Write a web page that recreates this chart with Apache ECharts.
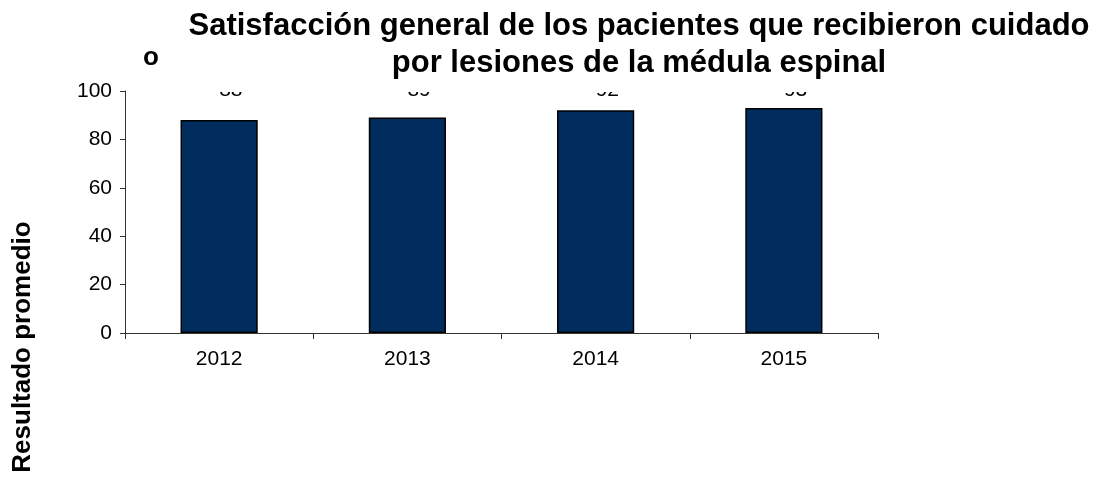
<!DOCTYPE html>
<html>
<head>
<meta charset="utf-8">
<script src="https://cdn.jsdelivr.net/npm/echarts@6/dist/echarts.min.js"></script>
<style>
  html, body { margin: 0; padding: 0; background: #fff; }
  #chart { width: 1117px; height: 477px; }
</style>
</head>
<body>
<div id="chart"></div>
<script>
// datos del gráfico
const years = ['2012', '2013', '2014', '2015'];
const scores = [88, 89, 92, 93];
const yTicks = { min: 0, max: 100, interval: 20 };

const titleText = 'Satisfacción general de los pacientes que recibieron cuidado\npor lesiones de la médula espinal';
const yAxisName = 'Resultado promedio';

const fontFamily = '"Liberation Sans", Arial, sans-serif';

const myChart = echarts.init(document.getElementById('chart'), null, {
  renderer: 'canvas',
});

const option = {
  backgroundColor: '#fff',
  animation: false,
  title: {
    text: titleText,
    left: 639 - 12,
    top: 0,
    textAlign: 'center',
    padding: [8, 12, 10, 12],
    backgroundColor: '#fff',
    textStyle: {
      fontFamily,
      fontSize: 31,
      fontWeight: 'bold',
      color: '#000',
      lineHeight: 37,
    },
  },
  graphic: [
    {
      type: 'text',
      left: 143,
      top: 45,
      style: {
        text: 'o',
        font: 'bold 26px ' + fontFamily,
        fill: '#000',
      },
    },
    {
      // nombre del eje Y, más abajo que el centro del eje
      type: 'text',
      x: 23,
      y: 347,
      rotation: Math.PI / 2,
      style: {
        text: yAxisName,
        font: 'bold 26px ' + fontFamily,
        fill: '#000',
        align: 'center',
        verticalAlign: 'middle',
      },
    },
  ],
  grid: {
    left: 125,
    right: 239,
    top: 91,
    bottom: 144,
  },
  xAxis: {
    type: 'category',
    data: years,
    axisLine: { lineStyle: { color: '#333', width: 1 } },
    axisTick: { show: true, length: 6, lineStyle: { color: '#333' } },
    axisLabel: {
      color: '#000',
      fontFamily,
      fontSize: 21,
      margin: 16,
    },
  },
  yAxis: {
    type: 'value',
    min: yTicks.min,
    max: yTicks.max,
    interval: yTicks.interval,
    axisLine: { show: true, lineStyle: { color: '#333', width: 1 } },
    axisTick: { show: true, length: 5, lineStyle: { color: '#333' } },
    splitLine: { show: false },
    axisLabel: {
      color: '#000',
      fontFamily,
      fontSize: 21,
      margin: 13,
    },
  },
  series: [
    {
      type: 'bar',
      data: scores,
      barWidth: '41%',
      itemStyle: {
        color: '#002D5E',
        borderColor: '#000',
        borderWidth: 1.5,
      },
      label: {
        show: true,
        position: 'top',
        color: '#000',
        fontFamily,
        fontSize: 21,
      },
      // todas las etiquetas quedan a la misma altura, tapadas por el título
      labelLayout: () => ({ y: 101, verticalAlign: 'bottom' }),
    },
  ],
};

myChart.setOption(option);
</script>
</body>
</html>
